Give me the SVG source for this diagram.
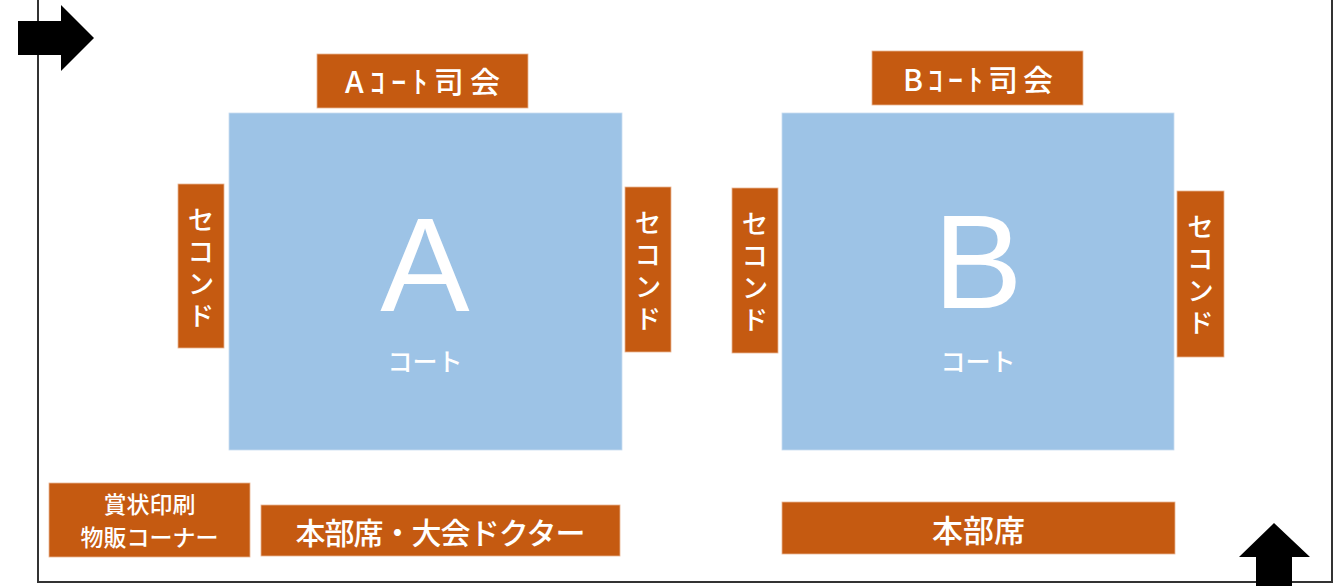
<svg xmlns="http://www.w3.org/2000/svg" width="1341" height="586" viewBox="0 0 1341 586">
<style>
.box{fill:#C55A11;stroke:#E9B592;stroke-width:0.8}
.court{fill:#9DC3E6;stroke:#C9DDF0;stroke-width:0.8}
text{font-family:"Noto Sans CJK JP","Noto Sans",sans-serif;fill:#FFFFFF;text-anchor:middle;font-weight:500}
.lbl{font-size:30px}
.sec{font-size:27px;writing-mode:vertical-rl;letter-spacing:5px}
.big{font-size:134px;font-family:"Liberation Sans","Noto Sans",sans-serif;font-weight:400}
.sub{font-size:25px}
.small{font-size:23px}
.arrow{fill:#000000}
</style>
<rect width="1341" height="586" fill="#FFFFFF"/>
<g id="frame">
<polyline points="38,0 38,582 1332,582 1332,0" fill="none" stroke="#333333" stroke-width="2"/>
</g>
<g id="court-a">
<rect class="court" x="229" y="113" width="393" height="337"/>
<text class="big" x="425" y="311">A</text>
<text class="sub" x="425" y="371">コート</text>
</g>
<g id="court-b">
<rect class="court" x="782" y="113" width="392" height="337"/>
<text class="big" x="978" y="308">B</text>
<text class="sub" x="978" y="371">コート</text>
</g>
<g id="mc-a">
<rect class="box" x="317" y="54" width="211" height="54"/>
<text class="lbl" x="422.5" y="93" textLength="155" lengthAdjust="spacing">Aｺｰﾄ司会</text>
</g>
<g id="mc-b">
<rect class="box" x="872" y="51" width="211" height="54"/>
<text class="lbl" x="978" y="91" textLength="150" lengthAdjust="spacing">Bｺｰﾄ司会</text>
</g>
<g id="second-a-left">
<rect class="box" x="178" y="184" width="46" height="164"/>
<text class="sec" x="201" y="270">セコンド</text>
</g>
<g id="second-a-right">
<rect class="box" x="625" y="187" width="46" height="165"/>
<text class="sec" x="648" y="273">セコンド</text>
</g>
<g id="second-b-left">
<rect class="box" x="732" y="188" width="46" height="165"/>
<text class="sec" x="755" y="274">セコンド</text>
</g>
<g id="second-b-right">
<rect class="box" x="1177" y="191" width="47" height="166"/>
<text class="sec" x="1200.5" y="277">セコンド</text>
</g>
<g id="printing">
<rect class="box" x="49" y="483" width="201" height="74"/>
<text class="small"><tspan x="149.5" y="513">賞状印刷</tspan><tspan x="149.5" y="546">物販コーナー</tspan></text>
</g>
<g id="hq-a">
<rect class="box" x="261" y="505" width="359" height="51"/>
<text class="lbl" x="440.5" y="544" textLength="290" lengthAdjust="spacing">本部席・大会ドクター</text>
</g>
<g id="hq-b">
<rect class="box" x="782" y="502" width="393" height="52"/>
<text class="lbl" x="978.5" y="542" style="font-size:31px">本部席</text>
</g>
<g id="connectors">
<polygon class="arrow" points="18,21 61,21 61,5 94,38 61,71 61,55 18,55"/>
<polygon class="arrow" points="1256,586 1256,557 1239,557 1274,523 1310,557 1292,557 1292,586"/>
</g>
</svg>
